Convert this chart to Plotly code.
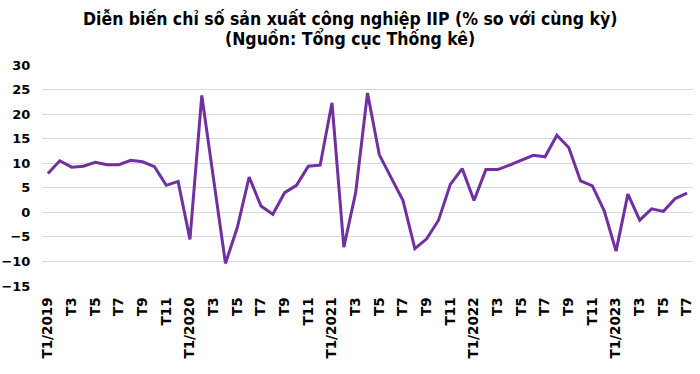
import plotly.graph_objects as go

months = [f"T{m}/{y}" if m == 1 else f"T{m}" for y in range(2019, 2024) for m in range(1, 13)][:55]
iip = [7.9, 10.5, 9.2, 9.4, 10.2, 9.7, 9.7, 10.6, 10.3, 9.3, 5.5, 6.3,
       -5.5, 23.8, 6.7, -10.4, -3.1, 7.2, 1.3, -0.4, 4.0, 5.5, 9.4, 9.6,
       22.3, -7.1, 4.0, 24.3, 11.7, 7.1, 2.4, -7.4, -5.4, -1.6, 5.7, 8.9,
       2.4, 8.7, 8.7, 9.6, 10.6, 11.6, 11.3, 15.7, 13.2, 6.4, 5.4, 0.3,
       -7.9, 3.7, -1.6, 0.7, 0.2, 2.8, 3.9]
tick_vals = list(range(0, 55, 2))
tick_text = [months[i] for i in tick_vals]
y_ticks = list(range(-15, 31, 5))
title_1 = "Diễn biến chỉ số sản xuất công nghiệp IIP (% so với cùng kỳ)"
title_2 = "(Nguồn: Tổng cục Thống kê)"

fig = go.Figure()
fig.add_trace(go.Scatter(
    x=list(range(len(iip))), y=iip, mode="lines",
    line=dict(color="#7030A0", width=3), hoverinfo="skip"))

H = 374
title_font = dict(family="DejaVu Sans Condensed, DejaVu Sans", size=17.5, color="#000000", weight="bold")
for txt, py in [(title_1, 18.5), (title_2, 38.5)]:
    fig.add_annotation(text=txt, xref="paper", yref="paper",
                       x=(350 - 42) / 651, y=1 + (65 - py) / 221,
                       xanchor="center", yanchor="middle", showarrow=False,
                       font=title_font)

fig.update_layout(
    width=700, height=H,
    margin=dict(l=42, r=7, t=65, b=88, autoexpand=False),
    paper_bgcolor="white", plot_bgcolor="white",
    showlegend=False,
    xaxis=dict(
        range=[-0.5, 54.5], tickmode="array", tickvals=tick_vals, ticktext=tick_text,
        tickangle=-90, showgrid=False, zeroline=False, showline=False, automargin=False,
        ticks="outside", ticklen=5, tickcolor="rgba(0,0,0,0)",
        tickfont=dict(family="DejaVu Sans", size=13.5, color="#000000", weight="bold")),
    yaxis=dict(
        range=[-15, 30], tickmode="array", tickvals=y_ticks, automargin=False,
        showgrid=True, gridcolor="#d9d9d9", gridwidth=1,
        zeroline=True, zerolinecolor="#d9d9d9", zerolinewidth=1, showline=False,
        ticks="outside", ticklen=8, tickcolor="rgba(0,0,0,0)",
        tickfont=dict(family="DejaVu Sans", size=13, color="#000000", weight="bold")),
)

fig.write_html("out.html", config={"displayModeBar": False},
               post_script="document.body.style.margin='0';document.body.style.overflow='hidden';")
